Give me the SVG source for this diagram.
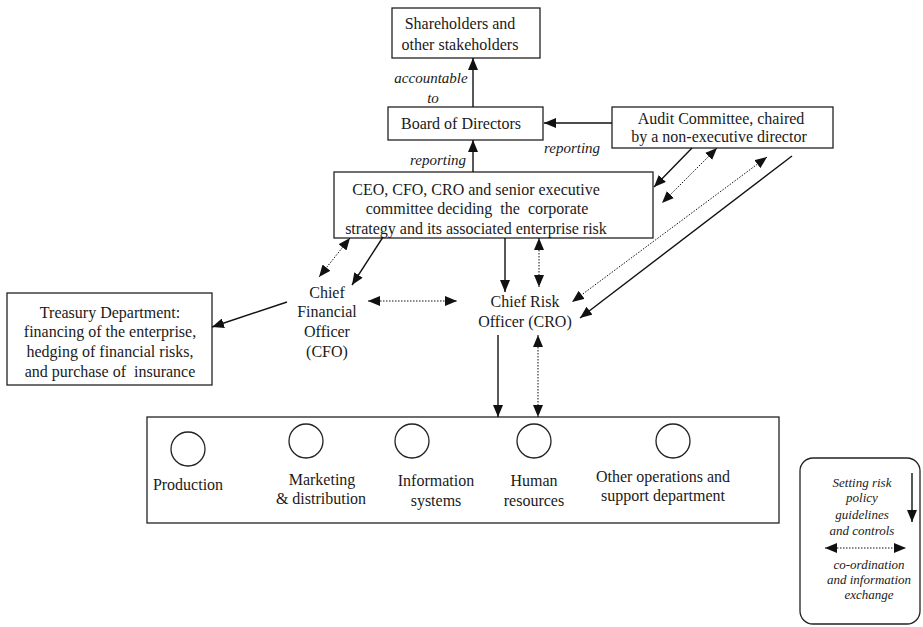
<svg xmlns="http://www.w3.org/2000/svg" width="923" height="627" viewBox="0 0 923 627" font-family="'Liberation Serif', 'Times New Roman', Times, 'DejaVu Serif', serif">
<style>
text{font-family:'Liberation Serif','Times New Roman',Times,'DejaVu Serif',serif;font-size:16px;fill:#1a1a1a;text-anchor:middle}
.it{font-style:italic;font-size:15px}
.lg{font-style:italic;font-size:13px}
.box{fill:#fff;stroke:#222;stroke-width:1.3}
.c{fill:none;stroke:#222;stroke-width:1.3}
.s{fill:none;stroke:#111;stroke-width:1.4}
.d{fill:none;stroke:#111;stroke-width:1;stroke-dasharray:1.5 1.5}
</style>
<defs>
<marker id="a" viewBox="0 0 12 10" refX="12" refY="5" markerWidth="12" markerHeight="10" markerUnits="userSpaceOnUse" orient="auto-start-reverse">
<path d="M0,0 L12,5 L0,10 z" fill="#111"/>
</marker>
</defs>
<rect width="923" height="627" fill="#fff"/>

<g id="shareholders">
<rect class="box" x="392" y="8" width="148" height="50"/>
<text x="460" y="29">Shareholders and</text>
<text x="460" y="50">other stakeholders</text>
</g>

<g id="board">
<rect class="box" x="388" y="107" width="155" height="33"/>
<text x="461" y="129">Board of Directors</text>
</g>

<g id="audit">
<rect class="box" x="612" y="107" width="221" height="41"/>
<text x="721" y="124">Audit Committee, chaired</text>
<text x="719" y="142">by a non-executive director</text>
</g>

<g id="ceo">
<rect class="box" x="334" y="172" width="319" height="66"/>
<text x="476" y="195">CEO, CFO, CRO and senior executive</text>
<text x="477" y="214" xml:space="preserve">committee deciding  the  corporate</text>
<text x="476" y="234">strategy and its associated enterprise risk</text>
</g>

<g id="cfo">
<text x="327" y="298">Chief</text>
<text x="327" y="317">Financial</text>
<text x="327" y="337">Officer</text>
<text x="327" y="357">(CFO)</text>
</g>

<g id="cro">
<text x="525" y="307">Chief Risk</text>
<text x="525" y="327">Officer (CRO)</text>
</g>

<g id="treasury">
<rect class="box" x="7" y="293" width="205" height="92"/>
<text x="110" y="318">Treasury Department:</text>
<text x="110" y="337">financing of the enterprise,</text>
<text x="110" y="357">hedging of financial risks,</text>
<text x="110" y="377" xml:space="preserve">and purchase of  insurance</text>
</g>

<g id="departments">
<rect class="box" x="147" y="417" width="632" height="106"/>
<circle class="c" cx="188" cy="449" r="17"/>
<circle class="c" cx="306" cy="441" r="17"/>
<circle class="c" cx="412" cy="441" r="17"/>
<circle class="c" cx="534" cy="441" r="17"/>
<circle class="c" cx="673" cy="441" r="17"/>
<text x="188" y="490">Production</text>
<text x="322" y="485">Marketing</text>
<text x="321" y="504">&amp; distribution</text>
<text x="436" y="486">Information</text>
<text x="436" y="506">systems</text>
<text x="534" y="486">Human</text>
<text x="534" y="506">resources</text>
<text x="663" y="482">Other operations and</text>
<text x="663" y="501">support department</text>
</g>

<g id="labels">
<text class="it" x="431" y="83">accountable</text>
<text class="it" x="433" y="103">to</text>
<text class="it" x="438" y="165">reporting</text>
<text class="it" x="572" y="153">reporting</text>
</g>

<g id="connectors">
<line class="s" x1="473" y1="107" x2="473" y2="58" marker-end="url(#a)"/>
<line class="s" x1="473" y1="172" x2="473" y2="140" marker-end="url(#a)"/>
<line class="s" x1="612" y1="123" x2="544" y2="123" marker-end="url(#a)"/>
<line class="s" x1="692" y1="148" x2="654" y2="187" marker-end="url(#a)"/>
<line class="d" x1="717" y1="148" x2="662" y2="203" marker-start="url(#a)" marker-end="url(#a)"/>
<line class="d" x1="767" y1="157" x2="572" y2="302" marker-start="url(#a)" marker-end="url(#a)"/>
<line class="s" x1="792" y1="156" x2="580" y2="318" marker-end="url(#a)"/>
<line class="s" x1="383" y1="237" x2="352" y2="285" marker-end="url(#a)"/>
<line class="d" x1="350" y1="238" x2="319" y2="277" marker-start="url(#a)" marker-end="url(#a)"/>
<line class="d" x1="368" y1="301" x2="457" y2="301" marker-start="url(#a)" marker-end="url(#a)"/>
<line class="s" x1="287" y1="302" x2="212" y2="327" marker-end="url(#a)"/>
<line class="s" x1="505" y1="238" x2="505" y2="292" marker-end="url(#a)"/>
<line class="d" x1="539" y1="238" x2="539" y2="287" marker-start="url(#a)" marker-end="url(#a)"/>
<line class="s" x1="498" y1="335" x2="498" y2="417" marker-end="url(#a)"/>
<line class="d" x1="538" y1="335" x2="538" y2="417" marker-start="url(#a)" marker-end="url(#a)"/>
</g>

<g id="legend">
<rect class="c" x="800" y="458" width="120" height="166" rx="13" ry="13"/>
<text class="lg" x="862" y="487">Setting risk</text>
<text class="lg" x="862" y="502">policy</text>
<text class="lg" x="862" y="519">guidelines</text>
<text class="lg" x="862" y="535">and controls</text>
<line class="s" x1="912" y1="473" x2="912" y2="522" marker-end="url(#a)"/>
<line class="d" x1="825" y1="548" x2="906" y2="548" marker-start="url(#a)" marker-end="url(#a)"/>
<text class="lg" x="869" y="569">co-ordination</text>
<text class="lg" x="869" y="584">and information</text>
<text class="lg" x="869" y="599">exchange</text>
</g>
</svg>
